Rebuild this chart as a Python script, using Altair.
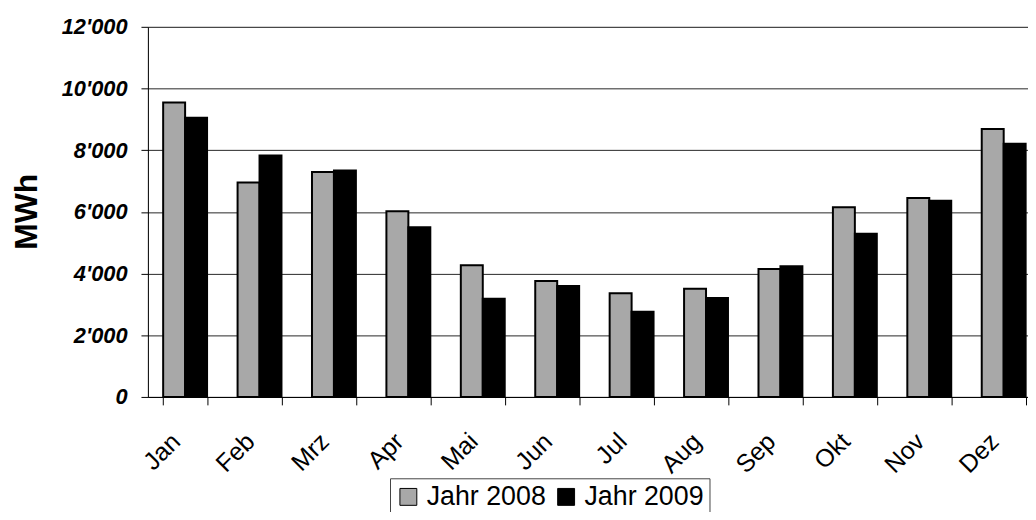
import altair as alt
import pandas as pd

months = ["Jan", "Feb", "Mrz", "Apr", "Mai", "Jun", "Jul", "Aug", "Sep", "Okt", "Nov", "Dez"]
jahr_2008 = [9550, 6950, 7290, 6020, 4270, 3760, 3360, 3510, 4150, 6150, 6450, 8690]
jahr_2009 = [9050, 7830, 7340, 5500, 3180, 3600, 2760, 3210, 4240, 5290, 6365, 8210]
series = ["Jahr 2008", "Jahr 2009"]
y_ticks = [0, 2000, 4000, 6000, 8000, 10000, 12000]

rows = []
for i, m in enumerate(months):
    rows.append({"Monat": m, "Serie": series[0], "MWh": jahr_2008[i]})
    rows.append({"Monat": m, "Serie": series[1], "MWh": jahr_2009[i]})
df = pd.DataFrame(rows)

font = "Liberation Sans"

bars = alt.Chart(df).mark_bar(stroke="black", strokeWidth=2).encode(
    x=alt.X("Monat:N", sort=months,
            scale=alt.Scale(paddingInner=0.41, paddingOuter=0.205, range=[0, 900]),
            axis=alt.Axis(title=None, labelAngle=-45, labelAlign="right", labelBaseline="top",
                          labelFont=font, labelFontSize=25, labelColor="black",
                          labelPadding=24, labelOffset=-18, tickBand="extent", tickSize=8,
                          tickColor="black", domainColor="black", domainWidth=1, grid=False)),
    xOffset=alt.XOffset("Serie:N", sort=series),
    y=alt.Y("MWh:Q", scale=alt.Scale(domain=[0, 12000], nice=False),
            axis=alt.Axis(title="MWh", values=y_ticks,
                          labelExpr="replace(format(datum.value, ','), ',', \"'\")",
                          labelFont=font, labelFontSize=22, labelFontWeight="bold",
                          labelFontStyle="italic", labelColor="black", labelPadding=14,
                          tickSize=7, tickColor="black", domainColor="black",
                          gridColor="black", gridWidth=1, gridOpacity=0.85,
                          titleFont=font, titleFontSize=32, titleFontWeight="bold",
                          titleColor="black", titleX=-122, titleY=186, titleAngle=-90,
                          titleAlign="center", titleBaseline="middle")),
    fill=alt.Fill("Serie:N", sort=series,
                  scale=alt.Scale(domain=series, range=["#a8a8a8", "black"]),
                  legend=alt.Legend(title=None, orient="none", legendX=244, legendY=455,
                                    direction="horizontal", labelFont=font, labelFontSize=27,
                                    labelColor="black", symbolType="square", symbolSize=290,
                                    symbolStrokeColor="black", symbolStrokeWidth=1,
                                    strokeColor="#444", padding=5, columnPadding=6,
                                    labelOffset=5)),
)

chart = bars.properties(
    width=887, height=373,
    autosize=alt.AutoSizeParams(type="none"),
    padding={"left": 141, "top": 17, "right": 0, "bottom": 114},
).configure_view(stroke=None).configure(background="white")

chart.save("out.html", embed_options={"renderer": "svg", "actions": False})
